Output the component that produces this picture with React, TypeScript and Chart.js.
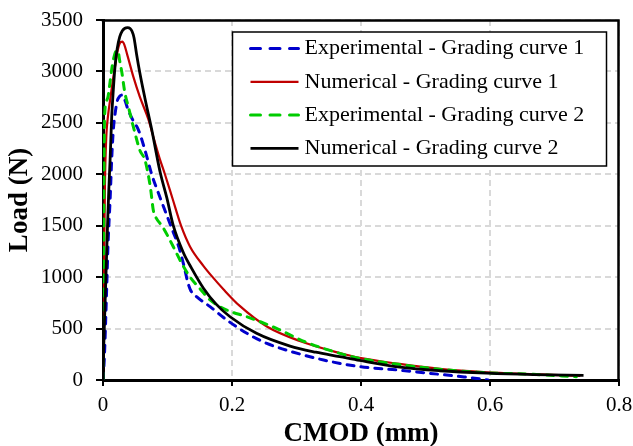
import React, { useEffect, useRef } from "react";
import { Chart, registerables } from "chart.js";

Chart.register(...registerables);

const FONT = "'Liberation Serif', 'Times New Roman', serif";

// Experimental - Grading curve 1
const exp1X = [0, 0.002, 0.004, 0.006, 0.008, 0.011, 0.0135, 0.016, 0.019, 0.022, 0.026, 0.03, 0.034, 0.039, 0.046, 0.055, 0.065, 0.0755, 0.088, 0.105, 0.119, 0.127, 0.131, 0.136, 0.145, 0.166, 0.192, 0.223, 0.254, 0.29, 0.342, 0.398, 0.46, 0.522, 0.56, 0.597];
const exp1Y = [0, 200, 550, 950, 1350, 1750, 2150, 2430, 2600, 2710, 2760, 2770, 2720, 2625, 2530, 2430, 2236, 2000, 1782, 1500, 1264, 1070, 960, 870, 810, 713, 583, 454, 356, 280, 194, 130, 95, 55, 30, 0];

// Numerical - Grading curve 1
const num1X = [0, 0.001, 0.002, 0.003, 0.005, 0.008, 0.011, 0.015, 0.0186, 0.022, 0.026, 0.03, 0.033, 0.037, 0.047, 0.057, 0.07, 0.08, 0.088, 0.096, 0.108, 0.121, 0.135, 0.1556, 0.17, 0.187, 0.212, 0.254, 0.305, 0.367, 0.398, 0.46, 0.522, 0.595, 0.667, 0.74];
const num1Y = [0, 600, 1300, 1900, 2350, 2580, 2720, 2900, 3046, 3180, 3273, 3290, 3260, 3176, 2949, 2754, 2540, 2320, 2150, 2000, 1760, 1500, 1296, 1110, 1000, 880, 720, 520, 379, 262, 215, 156, 108, 75, 58, 40];

// Experimental - Grading curve 2
const exp2X = [0, 0.0005, 0.001, 0.0015, 0.002, 0.003, 0.005, 0.008, 0.011, 0.014, 0.017, 0.02, 0.023, 0.026, 0.029, 0.034, 0.04, 0.047, 0.057, 0.065, 0.07, 0.074, 0.078, 0.082, 0.0924, 0.109, 0.122, 0.135, 0.15, 0.166, 0.192, 0.223, 0.269, 0.313, 0.367, 0.398, 0.46, 0.522, 0.595, 0.667, 0.734];
const exp2Y = [0, 500, 1200, 1900, 2400, 2620, 2700, 2760, 2900, 3040, 3140, 3195, 3200, 3100, 3000, 2790, 2640, 2463, 2236, 2139, 2000, 1850, 1650, 1580, 1490, 1296, 1134, 1000, 890, 778, 680, 615, 502, 372, 259, 210, 150, 104, 71, 55, 32];

// Numerical - Grading curve 2
const num2X = [0, 0.001, 0.003, 0.005, 0.007, 0.009, 0.011, 0.0135, 0.016, 0.0186, 0.022, 0.026, 0.03, 0.034, 0.038, 0.042, 0.045, 0.048, 0.052, 0.057, 0.065, 0.076, 0.084, 0.089, 0.099, 0.109, 0.1245, 0.137, 0.156, 0.175, 0.197, 0.238, 0.29, 0.33, 0.367, 0.398, 0.46, 0.522, 0.595, 0.667, 0.745];
const num2Y = [0, 300, 700, 1100, 1500, 1850, 2139, 2560, 2820, 3046, 3220, 3338, 3395, 3420, 3425, 3417, 3390, 3330, 3170, 2990, 2740, 2420, 2160, 2010, 1770, 1500, 1240, 1090, 890, 740, 615, 454, 330, 270, 227, 190, 125, 90, 66, 52, 44];

const seriesLabels = [
  "Experimental - Grading curve 1",
  "Numerical - Grading curve 1",
  "Experimental - Grading curve 2",
  "Numerical - Grading curve 2",
];
const seriesColors = ["#0000cc", "#c00000", "#00cc00", "#000000"];

const xTicks = [0, 0.2, 0.4, 0.6, 0.8];
const xMax = 0.8;
const yMax = 3500;
const yStep = 500;

const pts = (xs: number[], ys: number[]) => xs.map((x, i) => ({ x, y: ys[i] }));

const decorPlugin = {
  id: "boxLegendFrame",
  afterDraw(chart: any) {
    const ctx: CanvasRenderingContext2D = chart.ctx;
    const xs = chart.scales.x;
    const ys = chart.scales.y;
    const left = xs.getPixelForValue(0);
    const right = xs.getPixelForValue(xMax);
    const top = ys.getPixelForValue(yMax);
    const bottom = ys.getPixelForValue(0);

    // legend box
    const boxW = 374;
    const boxH = 134;
    const bx = right - 12.5 - boxW;
    const by = top + 12;
    ctx.save();
    ctx.setLineDash([]);
    ctx.fillStyle = "#ffffff";
    ctx.fillRect(bx, by, boxW, boxH);
    ctx.strokeStyle = "#000000";
    ctx.lineWidth = 1.5;
    ctx.strokeRect(bx, by, boxW, boxH);
    ctx.font = `22px ${FONT}`;
    ctx.textBaseline = "middle";
    ctx.textAlign = "left";
    chart.data.datasets.forEach((ds: any, i: number) => {
      const y = by + 16.5 + i * 33.3;
      ctx.save();
      ctx.strokeStyle = ds.borderColor;
      ctx.lineWidth = ds.borderWidth;
      const isDashed = ds.borderDash && ds.borderDash.length;
      ctx.lineCap = isDashed ? "round" : "butt";
      ctx.setLineDash(isDashed ? [10, 9.5] : []);
      ctx.beginPath();
      ctx.moveTo(bx + 18, y);
      ctx.lineTo(bx + 66, y);
      ctx.stroke();
      ctx.restore();
      ctx.fillStyle = "#000000";
      ctx.fillText(ds.label, bx + 72, y);
    });
    ctx.restore();

    // plot frame
    ctx.save();
    ctx.setLineDash([]);
    ctx.lineCap = "square";
    ctx.strokeStyle = "#000000";
    ctx.lineWidth = 2.5;
    ctx.beginPath();
    ctx.moveTo(left, top + 0.5);
    ctx.lineTo(right - 0.5, top + 0.5);
    ctx.lineTo(right - 0.5, bottom);
    ctx.stroke();
    ctx.restore();
  },
};

export default function App() {
  const ref = useRef<HTMLCanvasElement>(null);
  useEffect(() => {
    const canvas = ref.current;
    if (!canvas) return;
    const dashed = [7, 7];
    const chart = new Chart(canvas, {
      type: "line",
      data: {
        datasets: [
          { label: seriesLabels[0], data: pts(exp1X, exp1Y), borderColor: seriesColors[0], borderWidth: 3, borderDash: dashed, borderCapStyle: "round", order: 3 },
          { label: seriesLabels[1], data: pts(num1X, num1Y), borderColor: seriesColors[1], borderWidth: 2.2, order: 2 },
          { label: seriesLabels[2], data: pts(exp2X, exp2Y), borderColor: seriesColors[2], borderWidth: 3, borderDash: dashed, borderCapStyle: "round", order: 1 },
          { label: seriesLabels[3], data: pts(num2X, num2Y), borderColor: seriesColors[3], borderWidth: 2.8, order: 0 },
        ] as any,
      },
      options: {
        animation: false,
        responsive: false,
        devicePixelRatio: 1,
        layout: { padding: { top: 20, right: 14, left: 0, bottom: 0 } },
        elements: {
          point: { radius: 0, hoverRadius: 0 },
          line: { cubicInterpolationMode: "monotone", fill: false },
        },
        plugins: { legend: { display: false }, tooltip: { enabled: false } },
        scales: {
          x: {
            type: "linear",
            min: 0,
            max: xMax,
            afterBuildTicks: (scale: any) => {
              scale.ticks = xTicks.map((v) => ({ value: v }));
            },
            afterFit: (scale: any) => {
              scale.height = 66;
              scale.paddingLeft = 0;
              scale.paddingRight = 0;
            },
            ticks: {
              color: "#000",
              font: { family: FONT, size: 21 },
              padding: 7,
              maxRotation: 0,
              callback: (v: any) => (Number(v) === 0 ? "0" : Number(v).toFixed(1)),
            },
            grid: { color: "#d9d9d9", lineWidth: 2, tickColor: "#000", tickLength: 6, tickWidth: 2 },
            border: { display: true, color: "#000", width: 3, dash: [6, 4] },
            title: {
              display: true,
              text: "CMOD (mm)",
              color: "#000",
              font: { family: FONT, size: 27, weight: "bold", lineHeight: 1 },
              padding: { top: 0, bottom: -2 },
            },
          },
          y: {
            type: "linear",
            min: 0,
            max: yMax,
            afterFit: (scale: any) => {
              scale.width = 103;
              scale.paddingTop = 0;
              scale.paddingBottom = 0;
            },
            ticks: {
              stepSize: yStep,
              color: "#000",
              font: { family: FONT, size: 21 },
              padding: 13,
              callback: (v: any) => String(v),
            },
            grid: { color: "#d9d9d9", lineWidth: 2, tickColor: "#000", tickLength: 7, tickWidth: 2 },
            border: { display: true, color: "#000", width: 3, dash: [6, 4] },
            title: {
              display: true,
              text: "Load (N)",
              color: "#000",
              font: { family: FONT, size: 27, weight: "bold", lineHeight: 1 },
              padding: { top: 7, bottom: 0 },
            },
          },
        },
      } as any,
      plugins: [decorPlugin],
    });
    return () => chart.destroy();
  }, []);
  return (
    <div style={{ position: "fixed", left: 0, top: 0, width: 633, height: 446, background: "#fff" }}>
      <canvas ref={ref} width={633} height={446} style={{ width: 633, height: 446, display: "block" }} />
    </div>
  );
}
